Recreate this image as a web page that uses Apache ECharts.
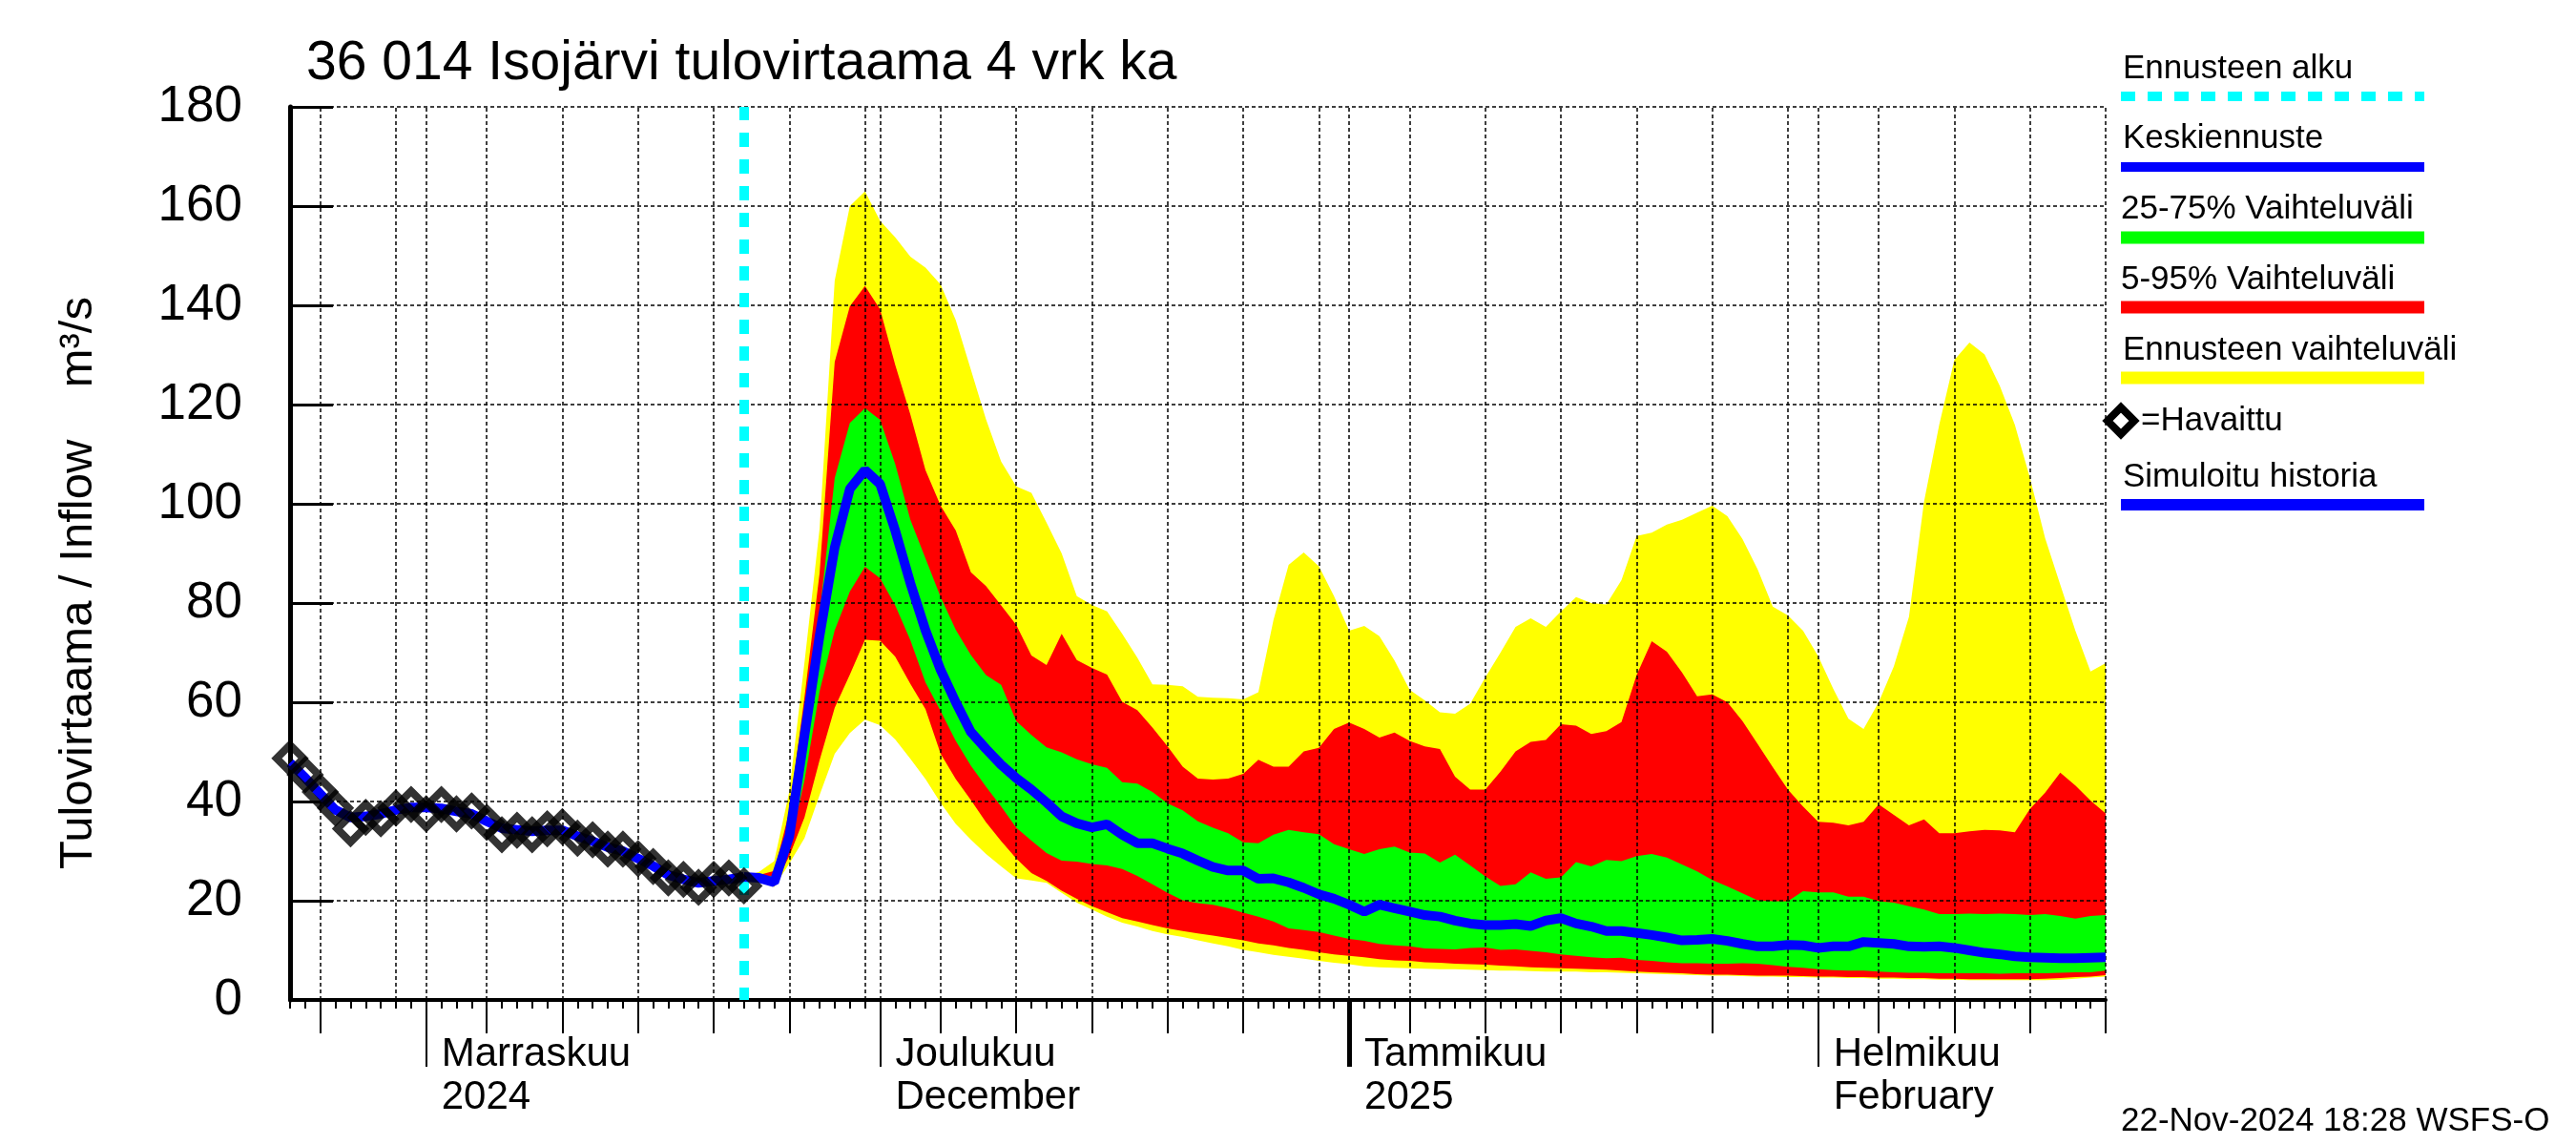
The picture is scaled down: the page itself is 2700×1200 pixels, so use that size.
<!DOCTYPE html>
<html><head><meta charset="utf-8">
<script src="https://cdn.jsdelivr.net/npm/echarts@6/dist/echarts.min.js"></script>
<style>html,body{margin:0;padding:0;background:#fff}#c{width:2700px;height:1200px}</style>
</head><body><div id="c"></div>
<script>
// ---------------- data ----------------
const axisStart = '2024-10-23';
const axisEnd = '2025-02-20';
const obsStart = '2024-10-23';
const forecastStart = '2024-11-22';

// observed (Havaittu), daily from obsStart
const observed = [48.7,45.4,41.9,38.7,34.5,36.8,36.5,38.7,39.4,37.5,39.4,37.5,38.1,35.8,33.3,34.2,33.3,34.5,34.9,32.6,32.3,30.4,30.4,28.5,26.9,24.6,24.3,22.7,24.3,24.6,23.0];
// simulated history (Simuloitu historia), daily from obsStart
const simulated = [47.8,44.8,41.5,38.3,36.8,37.0,37.5,38.3,38.8,38.8,38.6,38.0,37.5,36.0,34.6,34.3,34.0,34.2,34.2,33.0,32.0,30.8,30.0,28.5,27.0,25.2,24.3,23.6,24.0,24.3,24.8];

// forecast, daily from forecastStart (Nov 22 .. Feb 20)
const fcMax = [24.8,25.8,28,42,68,95,145,160,163,
 157,153.7,149.8,147.6,144.2,137,127,117,108.5,103.5,102.2,96.2,90,81.4,79.6,78.3,73.8,69,63.6,63.5,63.2,61.1,60.9,60.8,60.6,62,76.6,87.7,90.2,87.4,81.4,
 74.4,75.4,73.3,68.4,62.5,60.4,58,57.7,59.7,65,70,75.2,76.9,75.2,78.3,81.2,80,79.7,84.6,93.5,94.2,95.8,96.8,98.2,99.6,97.5,92.9,86.8,79.3,77.5,74.4,
 69.3,62.7,56.7,54.6,60,67.2,77.2,100.5,115.9,129,132.5,130.1,123.8,115.9,105.2,93.1,83.7,74.4,66.2,67.9];
const fcP95 = [24.8,25.2,26,38,61,86,128.6,139.8,143.9,
 139.2,128,118,106.8,99.6,94.6,86.2,83.4,79.5,75.6,69.4,67.5,73.8,68.5,66.9,65.6,60.1,58.4,54.9,51.1,47,44.6,44.4,44.6,45.6,48.4,47,47,50.1,50.8,54.6,
 55.9,54.6,52.9,53.9,52.2,51.1,50.6,45,42.4,42.4,46,50.1,52,52.4,55.6,55.3,53.6,54.2,56,65.5,72.3,70.2,66,61.2,61.6,60,56.2,51.6,46.9,42.4,39,
 35.9,35.7,35.2,35.9,39.4,37.3,35.2,36.4,33.6,33.6,34,34.3,34.2,33.8,38.5,41.8,45.8,43.2,40.2,37.6];
const fcP75 = [24.8,24.9,25,35,53.3,77.8,105.2,116.3,119.3,
 116.9,108,96.8,89,81.2,74.6,69.5,65.5,63.5,56.2,53.4,50.9,49.9,48.5,47.5,46.8,43.9,43.6,41.9,39.6,38.2,36,34.7,33.6,31.8,31.6,33.3,34.3,33.8,33.4,31.4,
 30.4,29.4,30.4,30.9,29.7,29.5,27.7,29.3,27.1,24.9,23,23.3,25.7,24.4,24.7,27.8,26.9,28.2,28,29,29.4,28.7,27.3,25.9,24.2,22.9,21.5,20.1,19.9,19.9,21.9,
 21.7,21.7,20.8,20.8,19.9,19.6,18.9,18.2,17.3,17.3,17.4,17.3,17.4,17.3,17.1,17.3,16.9,16.4,16.9,17.1];
const fcMean = [24.8,24.6,23.7,33,53.3,73.4,91.2,103,106.8,
 104,94.6,84,74.5,66.5,60,54,50.6,47.4,44.7,42.4,39.8,37,35.6,34.8,35.4,33.3,31.6,31.6,30.5,29.5,28.1,26.8,26.1,26.1,24.4,24.5,23.7,22.6,21.3,20.4,
 19.2,17.8,19.2,18.5,17.8,17.1,16.8,16,15.4,15.1,15.1,15.3,14.9,16,16.5,15.4,14.8,13.9,13.9,13.5,13.1,12.6,12,12.1,12.3,11.9,11.3,10.8,10.8,11.1,11,
 10.5,10.8,10.8,11.7,11.5,11.3,10.8,10.7,10.8,10.5,10,9.5,9.2,8.8,8.6,8.5,8.4,8.4,8.5,8.6];
const fcP25 = [24.8,24.3,23.2,30.5,44.3,62.2,74.5,82.3,87.3,
 85,79.5,72.5,64,58.2,52.2,47.2,43,39,34.7,32.1,29.6,28.1,27.9,27.4,27.1,26.4,25,23.3,21.6,20.1,19.5,19.2,18.5,17.6,16.8,15.8,14.4,14.1,13.7,13,
 12.3,11.9,11.3,11,10.8,10.4,10.3,10.2,10.5,10.6,10.1,10.2,9.9,9.6,9.2,8.9,8.6,8.4,8.5,8.1,7.9,7.6,7.4,7.4,7.3,7.3,7.4,7.3,7,6.7,6.5,
 6.2,6,5.9,5.9,5.7,5.6,5.5,5.5,5.4,5.4,5.4,5.4,5.3,5.4,5.4,5.4,5.5,5.6,5.6,5.9];
const fcP5 = [24.8,24.1,23,29,36.8,48.3,58.9,65.6,72.6,
 72.4,69.2,63.7,58.6,49.6,44.5,40.3,35.8,32,28.5,25.6,24,22,20.4,18.9,17.7,16.5,15.8,15.1,14.4,13.9,13.4,13,12.5,12,11.4,11,10.5,10.1,9.6,9.2,
 8.9,8.6,8.2,8,7.9,7.6,7.5,7.3,7.2,7.1,6.9,6.8,6.6,6.5,6.4,6.3,6.2,6.1,5.9,5.7,5.6,5.5,5.4,5.2,5.1,5.1,5,4.9,4.9,4.9,4.8,
 4.7,4.7,4.6,4.6,4.5,4.5,4.4,4.4,4.3,4.3,4.2,4.2,4.2,4.2,4.2,4.3,4.4,4.6,4.7,5];
const fcMin = [24.8,23.9,22.8,27.5,32.6,41.3,49.6,53.8,56.5,
 55.4,52.5,48.6,44.5,39.7,35.5,32.3,29.4,26.9,24.5,24.1,23.6,21.6,19.6,18.2,16.8,15.6,14.8,13.9,13.2,12.7,12,11.4,10.8,10.1,9.6,9.1,8.7,8.3,7.9,7.5,
 7.2,6.8,6.6,6.5,6.4,6.3,6.2,6.2,6.1,6,5.9,5.9,5.8,5.7,5.7,5.7,5.6,5.6,5.5,5.4,5.3,5.2,5.1,5,4.9,4.9,4.8,4.7,4.7,4.6,4.6,
 4.5,4.5,4.4,4.4,4.3,4.3,4.2,4.2,4.1,4.1,4,4,4,4,4,4,4.1,4.3,4.5,4.7];

const yTicks = [0,20,40,60,80,100,120,140,160,180];
const monthTickDates = ['2024-11-01','2024-12-01','2025-01-01','2025-02-01'];
const monthNames = ['Marraskuu','Joulukuu','Tammikuu','Helmikuu'];
const monthSubs = ['2024','December','2025','February'];
const titleText = '36 014 Isojärvi tulovirtaama 4 vrk ka';
const yName = 'Tulovirtaama / Inflow    m³/s';
const legendLabels = ['Ennusteen alku','Keskiennuste','25-75% Vaihteluväli','5-95% Vaihteluväli','Ennusteen vaihteluväli','=Havaittu','Simuloitu historia'];
const footerText = '22-Nov-2024 18:28 WSFS-O';

// ---------------- helpers ----------------
function utc(s){const p=s.split('-').map(Number);return Date.UTC(p[0],p[1]-1,p[2]);}
const DAY = 86400000;
const tMin = utc(axisStart), tMax = utc(axisEnd);
const tObs = utc(obsStart), tFc = utc(forecastStart);

// calendar-derived tick positions (timestamps)
const dayTicks=[], gridTs=[], fiveTs=[], monthTs=[], yearTs=[];
for(let t=tMin; t<=tMax; t+=DAY){
  const dt = new Date(t); const dom = dt.getUTCDate(); const mon = dt.getUTCMonth();
  dayTicks.push(t);
  if([1,5,10,15,20,25,30].includes(dom)) gridTs.push(t);
  if([5,10,15,20,25].includes(dom)) fiveTs.push(t);
  if(dom===1 && mon!==0) monthTs.push(t);
  if(dom===1 && mon===0) yearTs.push(t);
}
const labelTs = monthTickDates.map(utc);

const FONT = '"Liberation Sans", Arial, Helvetica, sans-serif';
const C = {yellow:'#FFFF00', red:'#FF0000', green:'#00FF00', blue:'#0000FF', cyan:'#00FFFF'};

function pairs(arr, t0){return arr.map((v,i)=>[t0+i*DAY, v]);}
function diffs(hi, lo, t0){return hi.map((v,i)=>[t0+i*DAY, +(v-lo[i]).toFixed(3)]);}

function band(name, lo, hi, color){
  return [
    {type:'line', name:name+'_base', stack:name, data:pairs(lo,tFc), symbol:'none', lineStyle:{opacity:0,width:0}, z:1, silent:true},
    {type:'line', name:name, stack:name, data:diffs(hi,lo,tFc), symbol:'none', lineStyle:{opacity:0,width:0}, areaStyle:{color:color, opacity:1}, z:1, silent:true}
  ];
}

// value-type helper axes (same range in ms) carry ticks & labels
const tickX = {type:'value', min:tMin, max:tMax, position:'bottom', splitLine:{show:false}, axisLabel:{show:false}, axisLine:{show:false, onZero:false}};

const option = {
  animation:false,
  backgroundColor:'#ffffff',
  grid:{left:304, right:493, top:112, bottom:152, containLabel:false},
  xAxis:[
    {type:'time', min:tMin, max:tMax, position:'bottom', splitLine:{show:false}, axisLabel:{show:false}, axisTick:{show:false}, axisLine:{show:false, onZero:false}},
    Object.assign({}, tickX, {axisLine:{show:true, onZero:false, lineStyle:{color:'#000', width:4}}, axisTick:{show:true, customValues:dayTicks, length:9, lineStyle:{color:'#000', width:2}}}),
    Object.assign({}, tickX, {axisTick:{show:true, customValues:fiveTs, length:35, lineStyle:{color:'#000', width:2}}}),
    Object.assign({}, tickX, {axisTick:{show:true, customValues:monthTs, length:70, lineStyle:{color:'#000', width:2}},
      axisLabel:{show:true, customValues:labelTs, align:'left', margin:35, padding:[0,0,0,16], fontSize:42, lineHeight:45, color:'#000', fontFamily:FONT,
        formatter:function(v){let i=-1; labelTs.forEach((t,k)=>{if(Math.abs(t-v)<DAY/2) i=k;}); return i<0?'':monthNames[i]+'\n'+monthSubs[i];}}}),
    Object.assign({}, tickX, {axisTick:{show:true, customValues:yearTs, length:70, lineStyle:{color:'#000', width:5}}})
  ],
  yAxis:{type:'value', min:yTicks[0], max:yTicks[yTicks.length-1], interval:20, z:3,
    axisLine:{show:true, lineStyle:{color:'#000', width:5}},
    axisTick:{show:true, inside:true, length:45, lineStyle:{color:'#000', width:3}},
    axisLabel:{fontSize:53, color:'#000', margin:50, fontFamily:FONT},
    splitLine:{show:true, lineStyle:{color:'#000', width:1.5, type:[4,3]}}},
  series:[
    ...band('Ennusteen vaihteluväli', fcMin, fcMax, C.yellow),
    ...band('5-95% Vaihteluväli', fcP5, fcP95, C.red),
    ...band('25-75% Vaihteluväli', fcP25, fcP75, C.green),
    {type:'line', name:'grid-v', data:[], z:3, silent:true,
      markLine:{silent:true, symbol:['none','none'], z:3, label:{show:false}, animation:false,
        lineStyle:{color:'#000', width:1.5, type:[4,3]}, emphasis:{disabled:true},
        data:gridTs.map(t=>({xAxis:t}))}},
    {type:'line', name:'Ennusteen alku', data:[], z:4, silent:true,
      markLine:{silent:true, symbol:['none','none'], z:4, label:{show:false}, animation:false,
        lineStyle:{color:C.cyan, width:10, type:[15,13], dashOffset:2}, emphasis:{disabled:true},
        data:[{xAxis:tFc}]}},
    {type:'line', name:'Simuloitu historia', data:pairs(simulated,tObs), symbol:'none', lineStyle:{color:C.blue, width:10}, z:5, silent:true},
    {type:'line', name:'Keskiennuste', data:pairs(fcMean,tFc), symbol:'none', lineStyle:{color:C.blue, width:10}, z:5, silent:true},
    {type:'scatter', name:'Havaittu', data:pairs(observed,tObs), symbol:'diamond', symbolSize:28,
      itemStyle:{color:'rgba(0,0,0,0)', borderColor:'#000', borderWidth:8}, z:6, silent:true}
  ],
  graphic:[
    {type:'text', x:321, y:67, style:{text:titleText, font:'57px '+FONT, fill:'#000', textVerticalAlign:'middle'}},
    {type:'text', x:82, y:611, rotation:Math.PI/2, style:{text:yName, font:'49px '+FONT, fill:'#000', textAlign:'center', textVerticalAlign:'middle'}},
    // legend
    {type:'text', x:2225, y:72, style:{text:legendLabels[0], font:'35px '+FONT, fill:'#000', textVerticalAlign:'middle'}},
    {type:'line', shape:{x1:2223,y1:101,x2:2541,y2:101}, style:{stroke:C.cyan, lineWidth:10, lineDash:[15,13]}},
    {type:'text', x:2225, y:145, style:{text:legendLabels[1], font:'35px '+FONT, fill:'#000', textVerticalAlign:'middle'}},
    {type:'line', shape:{x1:2223,y1:175,x2:2541,y2:175}, style:{stroke:C.blue, lineWidth:10}},
    {type:'text', x:2223, y:219, style:{text:legendLabels[2], font:'35px '+FONT, fill:'#000', textVerticalAlign:'middle'}},
    {type:'line', shape:{x1:2223,y1:249,x2:2541,y2:249}, style:{stroke:C.green, lineWidth:13}},
    {type:'text', x:2223, y:293, style:{text:legendLabels[3], font:'35px '+FONT, fill:'#000', textVerticalAlign:'middle'}},
    {type:'line', shape:{x1:2223,y1:322,x2:2541,y2:322}, style:{stroke:C.red, lineWidth:13}},
    {type:'text', x:2225, y:367, style:{text:legendLabels[4], font:'35px '+FONT, fill:'#000', textVerticalAlign:'middle'}},
    {type:'line', shape:{x1:2223,y1:396,x2:2541,y2:396}, style:{stroke:C.yellow, lineWidth:13}},
    {type:'polygon', shape:{points:[[2209,441],[2223,427],[2237,441],[2223,455]]}, style:{fill:'none', stroke:'#000', lineWidth:8}},
    {type:'text', x:2244, y:441, style:{text:legendLabels[5], font:'35px '+FONT, fill:'#000', textVerticalAlign:'middle'}},
    {type:'text', x:2225, y:500, style:{text:legendLabels[6], font:'35px '+FONT, fill:'#000', textVerticalAlign:'middle'}},
    {type:'line', shape:{x1:2223,y1:529,x2:2541,y2:529}, style:{stroke:C.blue, lineWidth:12}},
    {type:'text', x:2223, y:1175, style:{text:footerText, font:'35px '+FONT, fill:'#000', textVerticalAlign:'middle'}}
  ]
};
const chart = echarts.init(document.getElementById('c'), null, {renderer:'canvas', width:2700, height:1200});
chart.setOption(option);
</script></body></html>
